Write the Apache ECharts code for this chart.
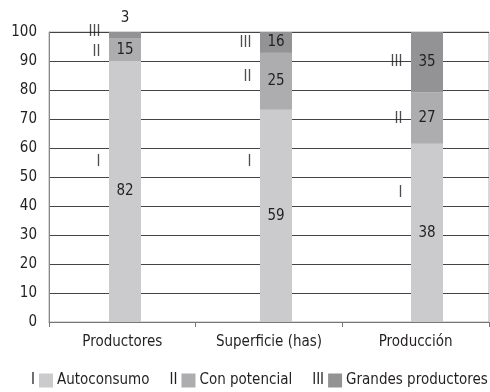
<!DOCTYPE html>
<html><head><meta charset="utf-8">
<script src="https://cdn.jsdelivr.net/npm/echarts@6/dist/echarts.min.js"></script>
<style>html,body{margin:0;padding:0;background:#fff}#c{width:490px;height:392px}</style>
</head><body><div id="c"></div>
<script>
// ---- data ----
const categories = ['Productores', 'Superficie (has)', 'Producción'];
const seriesNames = ['Autoconsumo', 'Con potencial', 'Grandes productores'];
const numerals = ['I', 'II', 'III'];
// bar segment heights as drawn
const barAutoconsumo = [90, 73.2, 61.5];
const barConPotencial = [7.7, 19.6, 17.7];
const barGrandes = [2.3, 7.2, 20.8];
// printed value labels
const labelAutoconsumo = [82, 59, 38];
const labelConPotencial = [15, 25, 27];
const labelGrandes = [3, 16, 35];
// roman numeral marker heights
const markerI = [55, 55, 44.5];
const markerII = [93, 84.5, 70];
const markerIII = [100, 96, 89.5];

// ---- style ----
const FONT = '"DejaVu Sans Condensed","Liberation Sans Narrow",sans-serif';
const FS = 15;
const TXT = '#231f20';
const colors = ['#cbcbcd', '#adadb0', '#939396'];

const bars = [barAutoconsumo, barConPotencial, barGrandes];
const labels = [labelAutoconsumo, labelConPotencial, labelGrandes];
const markers = [markerI, markerII, markerIII];

const barSeries = bars.map((vals, s) => ({
  name: seriesNames[s],
  type: 'bar',
  stack: 'total',
  xAxisIndex: 1,
  yAxisIndex: 1,
  barWidth: 32,
  itemStyle: { color: colors[s] },
  emphasis: { disabled: true },
  label: {
    show: true,
    position: 'inside',
    color: TXT,
    fontFamily: FONT,
    fontSize: FS,
    formatter: p => String(labels[s][p.dataIndex])
  },
  data: vals.map((v, i) => (labels[s][i] < 5 ? { value: v, label: { position: 'top', distance: 6 } } : v))
}));

const markerSeries = markers.map((vals, s) => ({
  name: 'm' + numerals[s],
  type: 'scatter',
  xAxisIndex: 1,
  yAxisIndex: 1,
  symbolSize: 1,
  silent: true,
  itemStyle: { color: 'rgba(0,0,0,0)' },
  emphasis: { disabled: true },
  label: {
    show: true,
    position: 'left',
    distance: 24,
    color: TXT,
    fontFamily: FONT,
    fontSize: FS,
    formatter: () => numerals[s]
  },
  data: vals.map((v, i) => [i, v])
}));

const rich = {
  n: { fontFamily: FONT, fontSize: FS, color: TXT, padding: [0, 4, 0, 0] },
  t: { fontFamily: FONT, fontSize: FS, color: TXT, padding: [0, 0, 0, 4] }
};
colors.forEach((c, i) => { rich['b' + i] = { width: 14, height: 14, backgroundColor: c }; });

const chart = echarts.init(document.getElementById('c'), null, { renderer: 'canvas' });
chart.setOption({
  animation: false,
  backgroundColor: '#fff',
  textStyle: { fontFamily: FONT },
  grid: [
    { left: 49, right: 1, top: 32, bottom: 70, show: true, borderColor: '#b0b0b0', borderWidth: 1, containLabel: false, outerBoundsMode: 'none' },
    { left: 49.5, width: 453, top: 32, bottom: 70, containLabel: false, outerBoundsMode: 'none' }
  ],
  legend: {
    data: seriesNames,
    left: 26,
    top: 373,
    width: 700,
    padding: 0,
    icon: 'none',
    itemWidth: 0,
    itemHeight: 14,
    itemGap: 15,
    selectedMode: false,
    formatter: name => {
      const i = seriesNames.indexOf(name);
      return '{n|' + numerals[i] + '}{b' + i + '|}{t|' + name + '}';
    },
    textStyle: { rich: rich, fontFamily: FONT, fontSize: FS, color: TXT }
  },
  xAxis: [
    {
      type: 'category', gridIndex: 0, data: categories, boundaryGap: true,
      axisLine: { lineStyle: { color: '#777', width: 1 } },
      axisTick: { show: true, length: 5, lineStyle: { color: '#777' } },
      axisLabel: { color: TXT, fontFamily: FONT, fontSize: FS, margin: 13, interval: 0 }
    },
    { type: 'category', gridIndex: 1, data: categories, show: false }
  ],
  yAxis: [
    {
      type: 'value', gridIndex: 0, min: 0, max: 100, interval: 10,
      axisLine: { show: true, lineStyle: { color: '#888' } },
      axisTick: { show: false },
      splitLine: { lineStyle: { color: '#444', width: 1 } },
      axisLabel: { color: TXT, fontFamily: FONT, fontSize: FS, margin: 12 }
    },
    { type: 'value', gridIndex: 1, min: 0, max: 100, show: false }
  ],
  series: barSeries.concat(markerSeries)
});
</script>
</body></html>
